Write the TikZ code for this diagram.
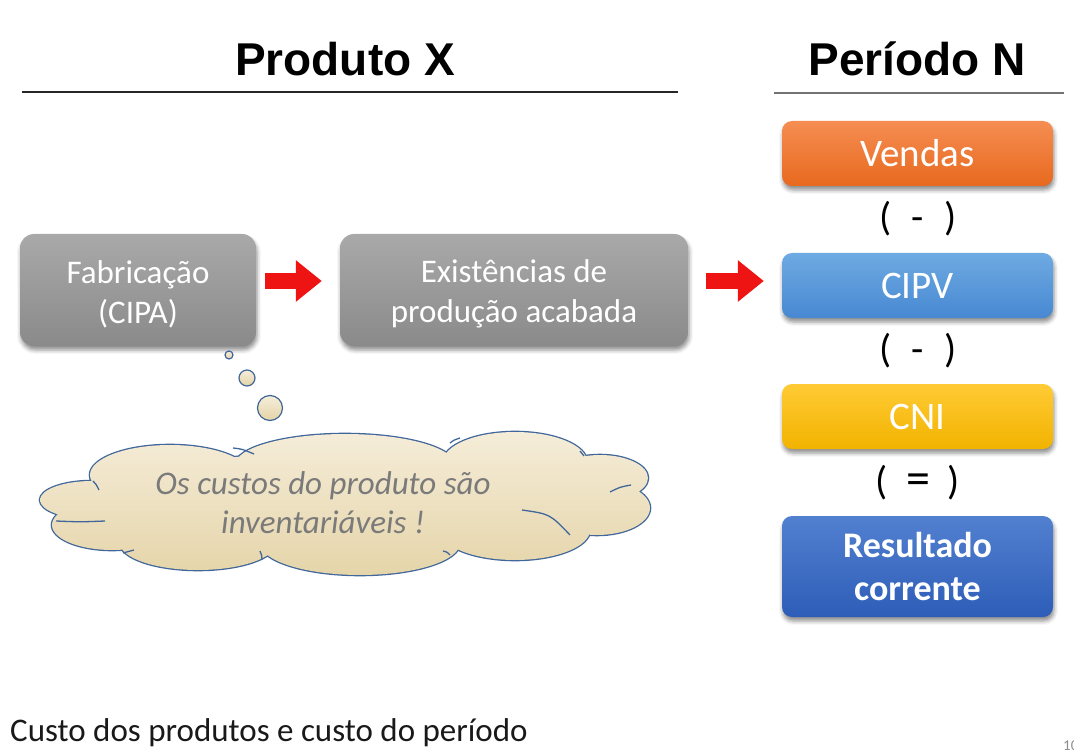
\documentclass[tikz,border=0pt]{standalone}
\usepackage{fontspec}
\setmainfont{Carlito}
\newfontfamily\titlefont{Liberation Sans}
\usetikzlibrary{shadows.blur,arrows.meta}
\definecolor{grayT}{HTML}{A9A9A9}
\definecolor{grayB}{HTML}{8A8A8A}
\definecolor{orT}{HTML}{F58D52}
\definecolor{orB}{HTML}{E8691E}
\definecolor{blT}{HTML}{6EAAE2}
\definecolor{blB}{HTML}{4788D2}
\definecolor{yeT}{HTML}{FFCB35}
\definecolor{yeB}{HTML}{F2B300}
\definecolor{dbT}{HTML}{5280D0}
\definecolor{dbB}{HTML}{2E5DB8}
\definecolor{cloudT}{HTML}{F6EEDB}
\definecolor{cloudB}{HTML}{E4D3A6}
\definecolor{cloudline}{HTML}{41679A}
\definecolor{arrred}{HTML}{EE1414}
\definecolor{cloudtxt}{HTML}{7A7A7A}
\newcommand{\cloudpuffs}{%
  (170,475) ellipse [x radius=80, y radius=30]
  (345,465) ellipse [x radius=110, y radius=31]
  (515,462) ellipse [x radius=72, y radius=30]
  (600,478) ellipse [x radius=48, y radius=23]
  (597,508) ellipse [x radius=53, y radius=27]
  (515,530) ellipse [x radius=75, y radius=30]
  (360,543) ellipse [x radius=100, y radius=32]
  (198,543) ellipse [x radius=78, y radius=27]
  (112,525) ellipse [x radius=60, y radius=25]
  (92,500) ellipse [x radius=52, y radius=19]
  (345,502) ellipse [x radius=250, y radius=50]}
\begin{document}
\begin{tikzpicture}[x=1pt,y=-1pt,
  title/.style={font=\titlefont\bfseries\fontsize{46}{52}\selectfont, anchor=base, inner sep=0},
  boxshadow/.style={blur shadow={shadow xshift=1pt, shadow yshift=-4pt, shadow blur radius=4pt, shadow opacity=45}},
  graybox/.style={boxshadow, rounded corners=14pt, top color=grayT, bottom color=grayB, draw=none,
     text=white, align=center, font=\fontsize{33}{40}\selectfont, inner sep=0},
  rightbox/.style={boxshadow, rounded corners=10pt, draw=none, minimum width=271, text=white,
     align=center, inner sep=0, font=\fontsize{39}{43}\selectfont},
  opnode/.style={font=\fontsize{40}{42}\selectfont, inner sep=0},
  bubble/.style={circle, draw=cloudline, line width=1.2pt, top color=cloudT, bottom color=cloudB, inner sep=0},
  redarr/.style={draw=arrred, line width=15pt, -{Triangle[length=26pt, width=40pt]}},
  innerarc/.style={draw=cloudline, line width=1.3pt}
]
\useasboundingbox (0,0) rectangle (1074,754);

% titles
\node[title] (t1) at (345,76) {Produto X};
\node[title] (t2) at (917,76) {Período N};
\coordinate (l1a) at (22,92); \coordinate (l1b) at (678,92);
\coordinate (l2a) at (774,93); \coordinate (l2b) at (1064,93);
\draw[line width=1.2pt, black!85] (l1a) -- (l1b);
\draw[line width=1.5pt, black!55] (l2a) -- (l2b);

% left boxes
\node[graybox, minimum width=236, minimum height=112] (fab) at (138,290) {\rule{0pt}{31pt}Fabricação\\(CIPA)};
\node[graybox, minimum width=348, minimum height=112] (exi) at (514,290) {\rule{0pt}{31pt}Existências de\\produção acabada};

% right boxes
\node[rightbox, minimum height=65, top color=orT, bottom color=orB] (ven) at (917.5,153.5) {Vendas};
\node[opnode] (op1) at (918,219) {(\hspace{20pt}-\hspace{20pt})};
\node[rightbox, minimum height=65, top color=blT, bottom color=blB] (cipv) at (917.5,285.5) {CIPV};
\node[opnode] (op2) at (918,351) {(\hspace{20pt}-\hspace{20pt})};
\node[rightbox, minimum height=65, top color=yeT, bottom color=yeB] (cni) at (917.5,416.5) {CNI};
\node[opnode] (op3) at (918,483) {(\hspace{18pt}{\fontsize{48}{48}\selectfont =}\hspace{18pt})};
\node[rightbox, minimum height=101, top color=dbT, bottom color=dbB,
      font=\bfseries\fontsize{36}{43}\selectfont] (res) at (917.5,566.5) {Resultado\\corrente};

% red arrows
\draw[redarr] ([xshift=9pt,yshift=9pt]fab.east) -- ([xshift=-18pt,yshift=9pt]exi.west);
\draw[redarr] ([xshift=18pt,yshift=9pt]exi.east) -- ([xshift=-18pt,yshift=9pt]exi.east -| cipv.west);

% thought bubbles
\node[bubble, minimum size=8] (b1) at (229,355) {};
\node[bubble, minimum size=16] (b2) at (247,378) {};
\node[bubble, minimum size=25] (b3) at (270,408) {};

% cloud
\draw[cloudline, line width=2.6pt] \cloudpuffs;
\begin{scope}
  \clip \cloudpuffs;
  \shade[top color=cloudT, bottom color=cloudB] (30,425) rectangle (660,585);
\end{scope}
\draw[innerarc] (233,448) .. controls (242,449) .. (254,454);
\draw[innerarc] (56,521) .. controls (80,522) .. (105,521);
\draw[innerarc] (93,481) .. controls (96,484) .. (99,490);
\draw[innerarc] (123,553) .. controls (128,552) .. (134,550);
\draw[innerarc] (262,560) .. controls (262,556) .. (260,551);
\draw[innerarc] (450,555) .. controls (447,552) .. (443,551);
\draw[innerarc] (522,510) .. controls (550,514) .. (570,535);
\draw[innerarc] (631,485) .. controls (620,487) .. (610,492);
\draw[innerarc] (580,451) .. controls (582,453) .. (584,456);
\draw[innerarc] (450,443) .. controls (454,440) .. (460,438);
\node[align=center, text=cloudtxt, font=\itshape\fontsize{33}{39}\selectfont, inner sep=0] (cltxt) at (323,503)
  {Os custos do produto são\\inventariáveis !};

% footer
\node[anchor=base west, inner sep=0, font=\fontsize{33}{36}\selectfont, text=black!90] (foot) at (10,741)
  {Custo dos produtos e custo do período};
\node[anchor=base west, inner sep=0, font=\fontsize{15}{16}\selectfont, text=black!45] (pg) at (1063,750) {10};
\end{tikzpicture}
\end{document}
